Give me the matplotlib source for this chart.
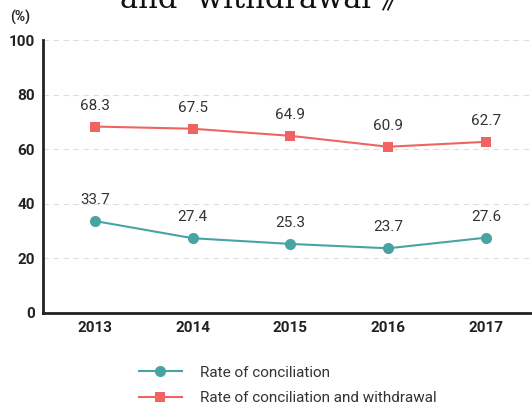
import matplotlib
matplotlib.use("Agg")
import matplotlib.pyplot as plt
from matplotlib.lines import Line2D

years = ["2013", "2014", "2015", "2016", "2017"]
conciliation = [33.7, 27.4, 25.3, 23.7, 27.6]
conc_withdrawal = [68.3, 67.5, 64.9, 60.9, 62.7]
teal = "#4aa3a3"
red = "#ef6461"

plt.rcParams['font.family'] = ['Roboto', 'DejaVu Sans']

fig = plt.figure(figsize=(5.32, 4.05), dpi=100)
ax = fig.add_axes([43/532, 1-313/405, 1-43/532, (313-40)/405])
x = list(range(len(years)))
ax.plot(x, conciliation, color=teal, lw=1.5, marker='o', ms=8, markeredgewidth=0, zorder=3)
ax.plot(x, conc_withdrawal, color=red, lw=1.5, marker='s', ms=7, markeredgewidth=0, zorder=3)
for xi, v in zip(x, conciliation):
    ax.annotate(f"{v}", (xi, v), xytext=(0, 10), textcoords='offset points', ha='center', va='bottom', fontsize=11, color='#333333')
for xi, v in zip(x, conc_withdrawal):
    ax.annotate(f"{v}", (xi, v), xytext=(0, 10), textcoords='offset points', ha='center', va='bottom', fontsize=11, color='#333333')

ax.set_xlim(-0.53, 4.47)
ax.set_ylim(0, 100)
ax.set_yticks([0, 20, 40, 60, 80, 100])
ax.set_xticks(x)
ax.set_xticklabels(years)
ax.tick_params(axis='both', length=0, labelsize=11, pad=6)
for lab in ax.get_xticklabels() + ax.get_yticklabels():
    lab.set_fontweight('bold')
    lab.set_color('#222222')
ax.grid(axis='y', linestyle=(0, (5, 4)), color='#dddddd', lw=0.8)
ax.set_axisbelow(True)
for s in ['top', 'right']:
    ax.spines[s].set_visible(False)
ax.spines['left'].set_linewidth(2)
ax.spines['bottom'].set_linewidth(2)
ax.spines['left'].set_color('#222222')
ax.spines['bottom'].set_color('#222222')

fig.text(10/532, 1-17/405, "(%)", fontsize=10, fontweight='bold', color='#222222', va='center', ha='left')
fig.text(0.5, 1.0, "and  withdrawal 》", family=['DejaVu Serif', 'Noto Sans CJK SC'],
         fontsize=22, ha='center', va='center', color='#111111')

handles = [Line2D([], [], color=teal, lw=1.5, marker='o', ms=8, markeredgewidth=0),
           Line2D([], [], color=red, lw=1.5, marker='s', ms=7, markeredgewidth=0)]
fig.legend(handles, ["Rate of conciliation", "Rate of conciliation and withdrawal"],
           loc='upper left', bbox_to_anchor=(125/532, 1-352/405), frameon=False,
           fontsize=11, handlelength=2.8, labelspacing=0.75, handletextpad=1.2,
           labelcolor='#333333')

fig.savefig("out.png", dpi=100)
